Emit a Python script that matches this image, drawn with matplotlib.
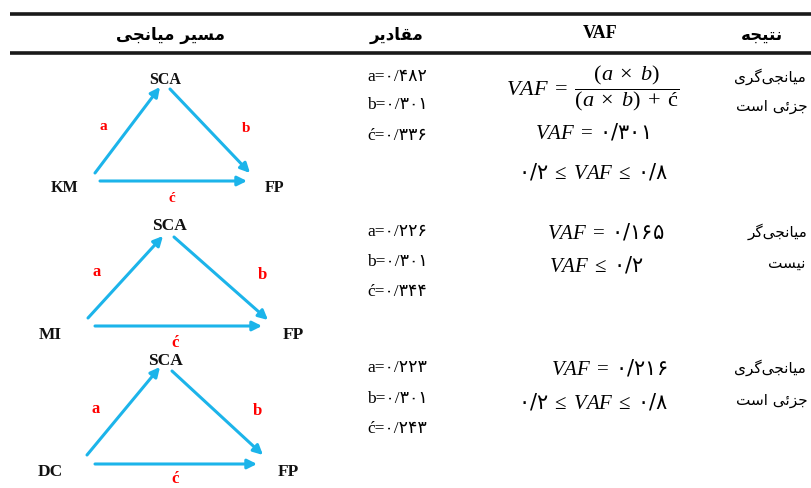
import matplotlib
matplotlib.use('Agg')
import matplotlib.pyplot as plt

plt.rcParams['mathtext.fontset'] = 'custom'
plt.rcParams['mathtext.it'] = 'Liberation Serif:italic'
plt.rcParams['mathtext.rm'] = 'Liberation Serif'
plt.rcParams['mathtext.sf'] = 'DejaVu Sans'

# table data
headers = ['مسیر میانجی', 'مقادیر', 'VAF', 'نتیجه']
predictors = ['KM', 'MI', 'DC']
mediator = 'SCA'
outcome = 'FP'
a_vals = ['۰/۴۸۲', '۰/۲۲۶', '۰/۲۲۳']
b_vals = ['۰/۳۰۱', '۰/۳۰۱', '۰/۳۰۱']
c_vals = ['۰/۳۳۶', '۰/۳۴۴', '۰/۲۴۳']
vaf_vals = ['۰/۳۰۱', '۰/۱۶۵', '۰/۲۱۶']
vaf_rules = [('۰/۲', '۰/۸'), (None, '۰/۲'), ('۰/۲', '۰/۸')]
results = [('میانجی‌گری', 'جزئی است'),
           ('میانجی‌گر', 'نیست'),
           ('میانجی‌گری', 'جزئی است')]

# simple persian shaping: (isolated, final, initial, medial)
FORMS = {
    'ا': ('\uFE8D', '\uFE8E', None, None),
    'د': ('\uFEA9', '\uFEAA', None, None),
    'ر': ('\uFEAD', '\uFEAE', None, None),
    'ز': ('\uFEAF', '\uFEB0', None, None),
    'ت': ('\uFE95', '\uFE96', '\uFE97', '\uFE98'),
    'ج': ('\uFE9D', '\uFE9E', '\uFE9F', '\uFEA0'),
    'س': ('\uFEB1', '\uFEB2', '\uFEB3', '\uFEB4'),
    'ق': ('\uFED5', '\uFED6', '\uFED7', '\uFED8'),
    'م': ('\uFEE1', '\uFEE2', '\uFEE3', '\uFEE4'),
    'ن': ('\uFEE5', '\uFEE6', '\uFEE7', '\uFEE8'),
    'ه': ('\uFEE9', '\uFEEA', '\uFEEB', '\uFEEC'),
    'ئ': ('\uFE89', '\uFE8A', '\uFE8B', '\uFE8C'),
    'ی': ('\uFBFC', '\uFBFD', '\uFBFE', '\uFBFF'),
    'گ': ('\uFB92', '\uFB93', '\uFB94', '\uFB95'),
}


def fa(text):
    out = []
    for i, ch in enumerate(text):
        if ch not in FORMS:
            if ch != '\u200c':
                out.append(ch)
            continue
        prev = text[i - 1] if i > 0 else None
        nxt = text[i + 1] if i + 1 < len(text) else None
        jp = prev in FORMS and FORMS[prev][2] is not None
        jn = nxt in FORMS and FORMS[ch][2] is not None
        iso, fin, ini, med = FORMS[ch]
        if jp and jn:
            out.append(med)
        elif jp:
            out.append(fin)
        elif jn:
            out.append(ini)
        else:
            out.append(iso)
    return ''.join(reversed(out))


fig = plt.figure(figsize=(8.11, 4.88), dpi=100)
ax = fig.add_axes([0, 0, 1, 1])
ax.set_xlim(0, 811)
ax.set_ylim(488, 0)
ax.axis('off')

# rules
for y in [14, 53]:
    ax.plot([10, 811], [y, y], color='#1a1a1a', lw=2.6, solid_capstyle='butt')

# header
ax.text(170, 35, fa(headers[0]), ha='center', va='center', fontsize=12,
        fontweight='bold', family='DejaVu Sans')
ax.text(397, 35, fa(headers[1]), ha='center', va='center', fontsize=12,
        fontweight='bold', family='DejaVu Sans')
ax.text(600, 33, headers[2], ha='center', va='center', fontsize=13,
        fontweight='bold', family='Liberation Serif')
ax.text(762, 35, fa(headers[3]), ha='center', va='center', fontsize=12,
        fontweight='bold', family='DejaVu Sans')

# diagram layout per row
blue = '#1cb4ea'
red = '#ff0000'
layout = [
    dict(X=(65, 188), S=(165, 80), F=(275, 188),
         a=((95, 173), (160, 87)), b=((170, 89), (250, 173)), c=((100, 181), (247, 181)),
         la=(103, 127), lb=(246, 128), lc=(172, 199), fs=11.5),
    dict(X=(50, 335), S=(169, 226), F=(293, 335),
         a=((88, 318), (163, 236)), b=((174, 237), (268, 320)), c=((95, 326), (262, 326)),
         la=(97, 272), lb=(262, 275), lc=(175, 343), fs=12.5),
    dict(X=(50, 472), S=(165, 361), F=(288, 472),
         a=((87, 455), (160, 367)), b=((172, 371), (263, 455)), c=((95, 464), (257, 464)),
         la=(96, 409), lb=(257, 411), lc=(175, 479), fs=12.5),
]

for i, L in enumerate(layout):
    for name, pos in [(predictors[i], L['X']), (mediator, L['S']), (outcome, L['F'])]:
        ax.text(pos[0], pos[1], name, ha='center', va='center', fontsize=L['fs'],
                fontweight='bold', family='Liberation Serif', color='#111111')
    for key in ['a', 'b', 'c']:
        start, end = L[key]
        ax.annotate('', xy=end, xytext=start,
                    arrowprops=dict(arrowstyle='-|>', color=blue, lw=2.2,
                                    mutation_scale=14, shrinkA=0, shrinkB=0))
    for lab, pos in [('a', L['la']), ('b', L['lb']), ('ć', L['lc'])]:
        ax.text(pos[0], pos[1], lab, ha='center', va='center', fontsize=L['fs'] - 0.5,
                fontweight='bold', family='Liberation Serif', color=red)

# values column
val_y = [(77, 105, 136), (232, 262, 292), (368, 399, 429)]
for i in range(3):
    for lab, v, y in zip(['a', 'b', 'ć'], [a_vals[i], b_vals[i], c_vals[i]], val_y[i]):
        ax.text(367, y, lab + '=' + v, ha='left', va='center', fontsize=12.5,
                family=['Liberation Serif', 'DejaVu Sans'])

# VAF column
ax.text(593, 88,
        r'$VAF\;=\;\dfrac{(a\;\times\;b)}{(a\;\times\;b)\;+\;\mathrm{ć}}$',
        ha='center', va='center', fontsize=16)
vaf_y = [(132, 172), (232, 265), (368, 402)]
vaf_x = [(592, 593), (606, 596), (609, 593)]
for i in range(3):
    ax.text(vaf_x[i][0], vaf_y[i][0], r'$VAF\;=\;\mathsf{%s}$' % vaf_vals[i],
            ha='center', va='center', fontsize=15)
    lo, hi = vaf_rules[i]
    if lo is None:
        rule = r'$VAF\;\leq\;\mathsf{%s}$' % hi
    else:
        rule = r'$\mathsf{%s}\;\leq\;VAF\;\leq\;\mathsf{%s}$' % (lo, hi)
    ax.text(vaf_x[i][1], vaf_y[i][1], rule, ha='center', va='center', fontsize=15)

# result column
res_pos = [((770, 77), (772, 107)), ((778, 232), (787, 263)), ((770, 368), (772, 400))]
for i in range(3):
    for txt, pos in zip(results[i], res_pos[i]):
        ax.text(pos[0], pos[1], fa(txt), ha='center', va='center', fontsize=11,
                family='DejaVu Sans')

fig.savefig('out.png', dpi=100)
